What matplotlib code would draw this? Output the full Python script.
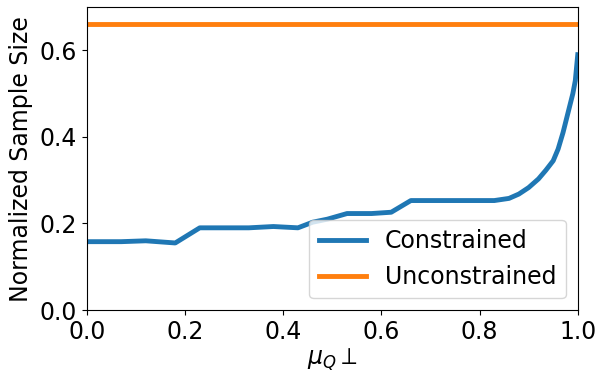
import matplotlib
matplotlib.use("Agg")
import matplotlib.pyplot as plt

# values
mu = [0.0, 0.07, 0.12, 0.18, 0.23, 0.28, 0.33, 0.38, 0.43, 0.46, 0.49, 0.53, 0.58, 0.62,
      0.66, 0.70, 0.75, 0.80, 0.83, 0.86, 0.88, 0.90, 0.92, 0.935, 0.95, 0.96, 0.97,
      0.98, 0.99, 0.995, 1.0]
constrained = [0.158, 0.158, 0.160, 0.155, 0.190, 0.190, 0.190, 0.193, 0.190, 0.203, 0.210,
               0.223, 0.223, 0.226, 0.253, 0.253, 0.253, 0.253, 0.253, 0.258, 0.268, 0.283,
               0.303, 0.323, 0.345, 0.372, 0.41, 0.455, 0.50, 0.53, 0.59]
unconstrained = 0.661

fig = plt.figure(figsize=(5.95, 3.74), dpi=100)
ax = fig.add_axes([0.146, 0.171, 0.825, 0.81])
ax.plot(mu, constrained, color="#1f77b4", lw=3.5, label="Constrained")
ax.plot([0, 1], [unconstrained, unconstrained], color="#ff7f0e", lw=3.5, label="Unconstrained")
ax.set_xlim(0, 1)
ax.set_ylim(0, 0.70)
ax.set_yticks([0.0, 0.2, 0.4, 0.6])
ax.tick_params(labelsize=17)
ax.set_xlabel(r"$\mu_Q \perp$", fontsize=17, labelpad=2)
ax.set_ylabel("Normalized Sample Size", fontsize=17, labelpad=5)
ax.legend(loc="lower right", fontsize=17)
fig.savefig("out.png", dpi=100)
